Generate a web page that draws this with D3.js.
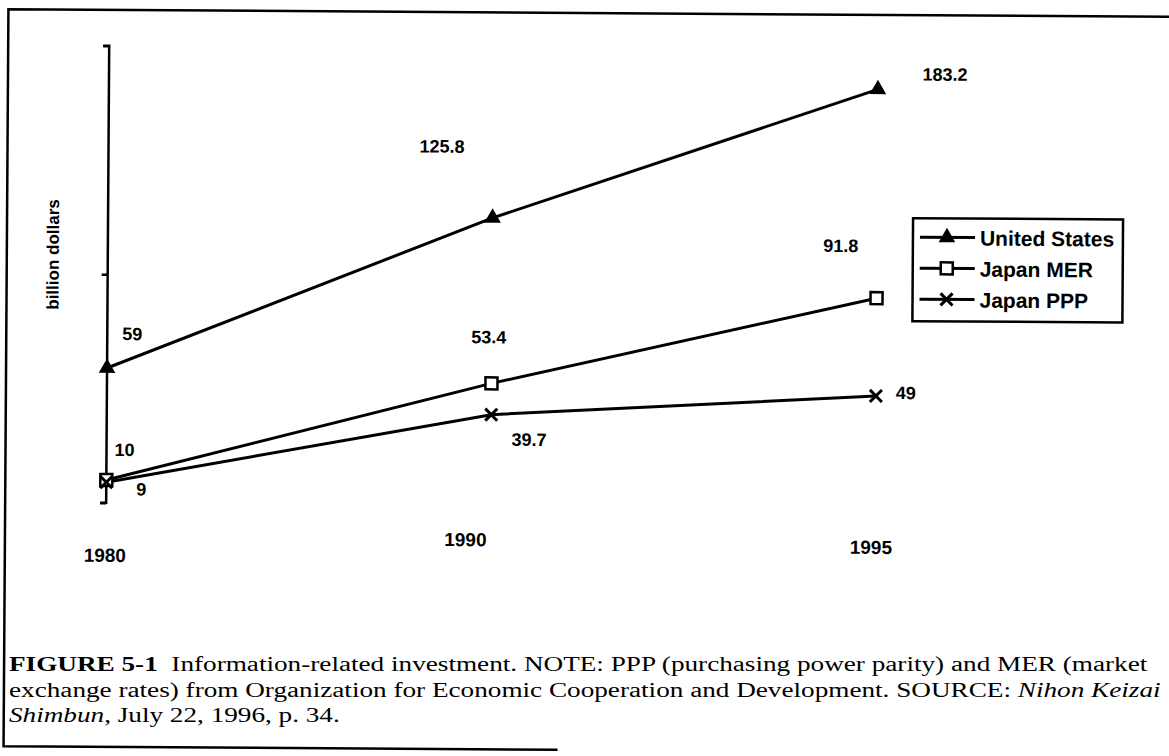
<!DOCTYPE html>
<html>
<head>
<meta charset="utf-8">
<script src="https://cdn.jsdelivr.net/npm/d3@7"></script>
<style>
  body { margin: 0; background: white; }
  text { font-family: "Liberation Sans", Arial, sans-serif; }
  .caption { font-family: "Liberation Serif", "Times New Roman", serif; }
</style>
</head>
<body>
<script>
// chart data
const years = ['1980', '1990', '1995'];
const usValues = [59, 125.8, 183.2];
const merValues = [10, 53.4, 91.8];
const pppValues = [9, 39.7, 49];
const seriesNames = ['United States', 'Japan MER', 'Japan PPP'];
const yTicks = [0, 100, 200];

let root = d3.select('body')
  .append('svg')
  .attr('width', 1169)
  .attr('height', 756);

// the scanned page is a little tilted, so the chart sits in a rotated group
let svg = root.append('g')
  .attr('transform', 'rotate(0.38, 585, 378)');

// frame (page border)
svg.append('path')
  .attr('d', 'M 1185 13 L 6 13 L 6 750 L 560 750')
  .attr('fill', 'none')
  .attr('stroke', 'black')
  .attr('stroke-width', 2.5);

let xScale = d3.scalePoint()
  .domain(years)
  .range([107, 876]);

let yScale = d3.scaleLinear()
  .domain([0, 200])
  .range([506, 49]);

// y axis with no labels
let yAxis = d3.axisLeft(yScale)
  .tickValues(yTicks)
  .tickSize(6)
  .tickFormat('');
let yG = svg.append('g')
  .attr('transform', 'translate(107, 0)')
  .call(yAxis);
yG.select('.domain').attr('stroke-width', 2.5).attr('d', 'M-6,' + yScale(200) + 'H0V' + yScale(0) + 'H-6');
yG.selectAll('.tick line').attr('stroke-width', 2.5);

svg.append('text')
  .attr('transform', 'translate(58, 258) rotate(-90)')
  .attr('text-anchor', 'middle')
  .attr('font-weight', 'bold')
  .style('font-size', '17px')
  .text('billion dollars');

// x labels, staggered like the original
const xLabelShift = [{ dx: -1, y: 565 }, { dx: -25, y: 547 }, { dx: -4, y: 552 }];
svg.selectAll('.xlabel')
  .data(years)
  .enter()
  .append('text')
  .attr('class', 'xlabel')
  .attr('x', (d, i) => xScale(d) + xLabelShift[i].dx)
  .attr('y', (d, i) => xLabelShift[i].y)
  .attr('text-anchor', 'middle')
  .attr('font-weight', 'bold')
  .style('font-size', '19px')
  .text((d) => d);

let line = d3.line()
  .x((d, i) => xScale(years[i]))
  .y((d) => yScale(d));

const allSeries = [usValues, merValues, pppValues];
allSeries.forEach((vals) => {
  svg.append('path')
    .datum(vals)
    .attr('d', line)
    .attr('fill', 'none')
    .attr('stroke', 'black')
    .attr('stroke-width', 3);
});

// markers
function drawMarker(g, kind, x, y) {
  if (kind === 0) {
    g.append('path')
      .attr('d', d3.symbol().type(d3.symbolTriangle).size(120)())
      .attr('transform', 'translate(' + x + ',' + y + ')')
      .attr('fill', 'black');
  } else if (kind === 1) {
    g.append('rect')
      .attr('x', x - 6).attr('y', y - 6)
      .attr('width', 12).attr('height', 12)
      .attr('fill', 'white')
      .attr('stroke', 'black')
      .attr('stroke-width', 2.5);
  } else {
    g.append('path')
      .attr('d', 'M' + (x - 6) + ',' + (y - 6) + 'L' + (x + 6) + ',' + (y + 6) +
        'M' + (x - 6) + ',' + (y + 6) + 'L' + (x + 6) + ',' + (y - 6))
      .attr('stroke', 'black')
      .attr('stroke-width', 3);
  }
}

allSeries.forEach((vals, k) => {
  vals.forEach((v, i) => drawMarker(svg, k, xScale(years[i]), yScale(v)));
});

// value labels, placed by hand around each point like the figure
const labelShift = [
  [{ dx: 25, dy: -28 }, { dx: -51, dy: -65 }, { dx: 67, dy: -9 }],
  [{ dx: 18, dy: -24 }, { dx: -3, dy: -40 }, { dx: -36, dy: -46 }],
  [{ dx: 35, dy: 13 }, { dx: 38, dy: 31 }, { dx: 30, dy: 3 }]
];
allSeries.forEach((vals, k) => {
  svg.selectAll('.vlabel' + k)
    .data(vals)
    .enter()
    .append('text')
    .attr('x', (d, i) => xScale(years[i]) + labelShift[k][i].dx)
    .attr('y', (d, i) => yScale(d) + labelShift[k][i].dy)
    .attr('text-anchor', 'middle')
    .attr('font-weight', 'bold')
    .style('font-size', '18px')
    .text((d) => d);
});

// legend
let legend = svg.append('g').attr('transform', 'translate(912, 216)');
legend.append('rect')
  .attr('width', 210)
  .attr('height', 103)
  .attr('fill', 'white')
  .attr('stroke', 'black')
  .attr('stroke-width', 2.5);
seriesNames.forEach((name, k) => {
  let ry = 19 + k * 31;
  legend.append('line')
    .attr('x1', 7).attr('x2', 62)
    .attr('y1', ry).attr('y2', ry)
    .attr('stroke', 'black')
    .attr('stroke-width', 3);
  drawMarker(legend, k, 34, ry);
  legend.append('text')
    .attr('x', 67)
    .attr('y', ry + 8)
    .attr('font-weight', 'bold')
    .style('font-size', '21px')
    .text(name);
});

// caption, stretched sideways like the scan
let capG = root.append('g').attr('transform', 'translate(9, 0) scale(1.36, 1)');
let cap = capG.append('text')
  .attr('class', 'caption')
  .style('font-size', '20px');
let l1 = cap.append('tspan').attr('x', 0).attr('y', 671);
l1.append('tspan').attr('font-weight', 'bold').text('FIGURE 5-1');
l1.append('tspan').text('\u00a0 Information-related investment. NOTE: PPP (purchasing power parity) and MER (market');
let l2 = cap.append('tspan').attr('x', 0).attr('y', 697);
l2.append('tspan').text('exchange rates) from Organization for Economic Cooperation and Development. SOURCE: ');
l2.append('tspan').attr('font-style', 'italic').text('Nihon Keizai');
let l3 = cap.append('tspan').attr('x', 0).attr('y', 722);
l3.append('tspan').attr('font-style', 'italic').text('Shimbun');
l3.append('tspan').text(', July 22, 1996, p. 34.');
</script>
</body>
</html>
